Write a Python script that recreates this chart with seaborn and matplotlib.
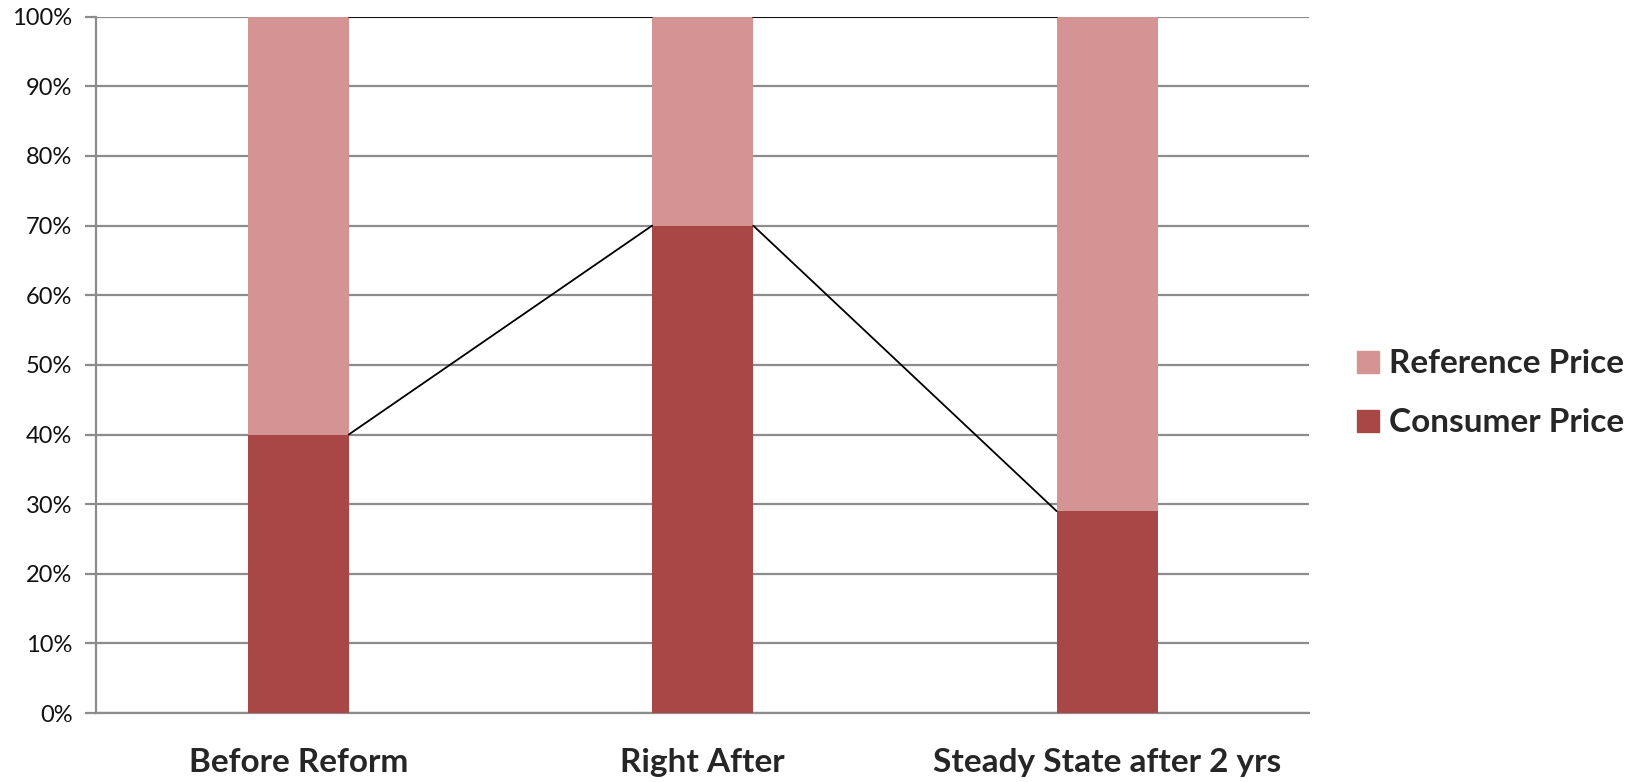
import matplotlib
matplotlib.use("Agg")
import matplotlib.pyplot as plt
import seaborn as sns
import pandas as pd
from matplotlib.patches import Patch
from matplotlib.ticker import PercentFormatter

categories = ["Before Reform", "Right After", "Steady State after 2 yrs"]
consumer_price = [40, 70, 29]
reference_price = [60, 30, 71]

consumer_color = "#A84745"
reference_color = "#D49493"
grid_color = "#8C8C8C"

sns.set_theme(style="white")
plt.rcParams["font.family"] = ["Lato", "DejaVu Sans"]

df = pd.DataFrame({
    "category": categories,
    "consumer": consumer_price,
    "total": [c + r for c, r in zip(consumer_price, reference_price)],
})

fig = plt.figure(figsize=(16.47, 7.82), dpi=100)
ax = fig.add_axes([0.0583, 0.0882, 0.7367, 0.8904])

bar_w = 0.25
sns.barplot(data=df, x="category", y="total", color=reference_color,
            width=bar_w, saturation=1, ax=ax, zorder=3, linewidth=0)
sns.barplot(data=df, x="category", y="consumer", color=consumer_color,
            width=bar_w, saturation=1, ax=ax, zorder=3, linewidth=0)

# Series lines joining the tops of neighbouring segments
half = bar_w / 2
for series in (df["consumer"].tolist(), df["total"].tolist()):
    for i in range(len(series) - 1):
        ax.plot([i + half, i + 1 - half], [series[i], series[i + 1]],
                color="black", lw=1.3, zorder=4)

ax.set_xlim(-0.5, len(categories) - 0.5)
ax.set_ylim(0, 100)
ax.set_yticks(range(0, 101, 10))
ax.yaxis.set_major_formatter(PercentFormatter(decimals=0))
ax.yaxis.grid(True, color=grid_color, lw=1.6, zorder=0)
ax.xaxis.grid(False)
ax.set_xlabel("")
ax.set_ylabel("")

for side in ("top", "right"):
    ax.spines[side].set_visible(False)
for side in ("left", "bottom"):
    ax.spines[side].set_color(grid_color)
    ax.spines[side].set_linewidth(1.6)

ax.tick_params(axis="y", which="major", left=True, length=8, width=1.6,
               color=grid_color, labelsize=17, pad=9, labelcolor="#111111")
ax.tick_params(axis="x", bottom=False, labelsize=24, pad=19)
for lbl in ax.get_xticklabels():
    lbl.set_fontweight("bold")

handles = [Patch(color=reference_color, label="Reference Price"),
           Patch(color=consumer_color, label="Consumer Price")]
leg = fig.legend(handles=handles, loc="center left", bbox_to_anchor=(0.806, 0.497),
                 frameon=False, prop={"size": 24, "weight": "bold"},
                 handlelength=0.64, handleheight=0.64, handletextpad=0.3,
                 labelspacing=0.9)

fig.savefig("out.png", dpi=100)
